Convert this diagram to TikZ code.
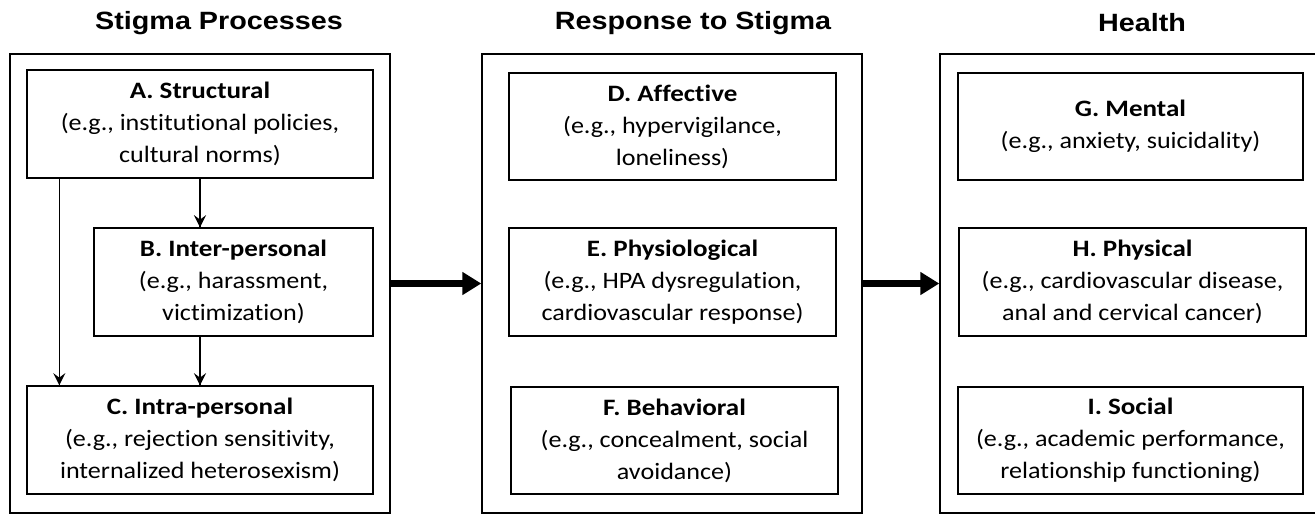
\documentclass[tikz,border=0pt]{standalone}
\usepackage{fontspec}
\setmainfont{Carlito}[Ligatures=NoCommon, FakeStretch=1.11, BoldFeatures={FakeStretch=1.15}]
\newfontfamily\headfont{Liberation Sans}[FakeStretch=1.15]
\usetikzlibrary{calc,arrows.meta,decorations.markings}
\tikzset{->/.style = {decoration={markings, mark=at position 1 with {\arrow[scale=2.4]{stealth}}}, postaction={decorate}}}
\tikzset{panel/.style = {draw, line width=1.4pt, inner sep=0pt, minimum width=380pt, minimum height=459pt},
         item/.style = {draw, line width=1.4pt, align=center, inner sep=0pt, minimum height=108pt,
                        font=\fontsize{23.5}{32}\selectfont},
         heading/.style = {font=\headfont\bfseries\fontsize{25}{30}\selectfont},
         bigarrow/.style = {line width=7pt, -{Triangle[length=19pt,width=22pt]}}}

\begin{document}
\begin{tikzpicture}[x=1pt,y=-1pt]
\useasboundingbox (0,0) rectangle (1315,515);
\node [heading] (t1) at (219,23) {Stigma Processes};
\node [heading] (t2) at (693,23) {Response to Stigma};
\node [heading] (t3) at (1142,23) {Health};
\node [panel] (P1) at (200,283.5) {};
\node [panel] (P2) at (672,283.5) {};
\node [panel] (P3) at (1130,283.5) {};
\node [item, minimum width=346pt] (A) at (200,124) {\textbf{A. Structural}\\(e.g., institutional policies,\\cultural norms)};
\node [item, minimum width=279pt] (B) at (233.5,282) {\textbf{B. Inter-personal}\\(e.g., harassment,\\victimization)};
\node [item, minimum width=346pt] (C) at (200,440) {\textbf{C. Intra-personal}\\(e.g., rejection sensitivity,\\internalized heterosexism)};
\node [item, minimum width=327pt, minimum height=107pt] (D) at (672.5,126.5) {\textbf{D. Affective}\\(e.g., hypervigilance,\\loneliness)};
\node [item, minimum width=327pt] (E) at (672.5,282) {\textbf{E. Physiological}\\(e.g., HPA dysregulation,\\cardiovascular response)};
\node [item, minimum width=327pt, minimum height=107pt] (F) at (674.5,440.5) {\textbf{F. Behavioral}\\(e.g., concealment, social\\avoidance)};
\node [item, minimum width=345pt, minimum height=107pt] (G) at (1130.5,126.5) {\textbf{G. Mental}\\(e.g., anxiety, suicidality)};
\node [item, minimum width=347pt] (H) at (1132.5,282) {\textbf{H. Physical}\\(e.g., cardiovascular disease,\\anal and cervical cancer)};
\node [item, minimum width=345pt, minimum height=107pt] (I) at (1130.5,440.5) {\textbf{I. Social}\\(e.g., academic performance,\\relationship functioning)};
\draw [->, line width=1.2pt] (A.south) -- (A.south |- B.north);
\draw [->, line width=1.2pt] (C.north |- B.south) -- (C.north);
\draw [->, line width=1.2pt] ($(A.south west)+(33,0)$) -- ($(C.north west)+(33,0)$);
\draw [bigarrow] (P1.east) -- (P2.west);
\draw [bigarrow] (P2.east) -- (P3.west);
\end{tikzpicture}
\end{document}
